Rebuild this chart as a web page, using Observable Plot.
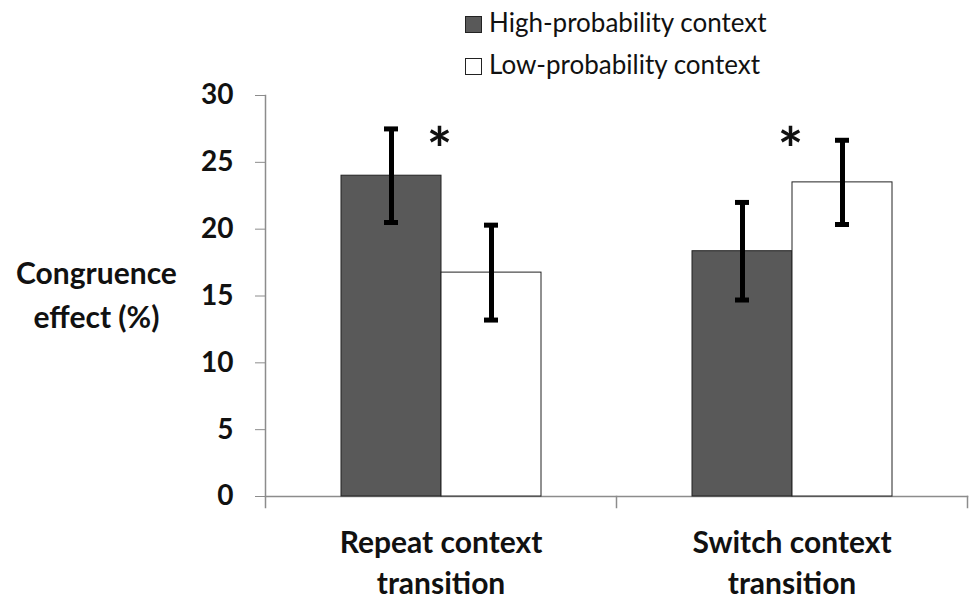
<!DOCTYPE html>
<html>
<head>
<meta charset="utf-8">
<script src="https://cdn.jsdelivr.net/npm/d3@7"></script>
<script src="https://cdn.jsdelivr.net/npm/@observablehq/plot@0.6"></script>
<style>
  html, body { margin: 0; padding: 0; background: #fff; }
  #wrap { position: relative; width: 973px; height: 614px; font-family: Lato, "Open Sans", sans-serif; }
  #legend { position: absolute; left: 465px; top: 1px; font-size: 26px; color: #111; line-height: 42px; }
  .sw { display: inline-block; width: 15px; height: 15px; border: 1px solid #222; margin-right: 7px; vertical-align: -1px; }
  #ylabel { position: absolute; left: 0px; top: 250px; width: 193px; text-align: center; font-size: 30px; font-weight: bold; line-height: 44px; color: #111; }
</style>
</head>
<body>
<div id="wrap">
  <div id="chart"></div>
  <div id="legend"></div>
  <div id="ylabel">Congruence<br>effect (%)</div>
</div>
<script>
const groups = ["Repeat context transition", "Switch context transition"];
const contexts = ["High-probability context", "Low-probability context"];
const highMeans = [24.0, 18.35];
const lowMeans = [16.75, 23.5];
const highErr = [3.5, 3.65];
const lowErr = [3.55, 3.15];
const sigY = [26.8, 26.8];
const yTicks = [0, 5, 10, 15, 20, 25, 30];
const colors = ["#595959", "#ffffff"];

const rows = [];
groups.forEach((g, i) => {
  rows.push({group: g, context: contexts[0], mean: highMeans[i], err: highErr[i]});
  rows.push({group: g, context: contexts[1], mean: lowMeans[i], err: lowErr[i]});
});
const stars = groups.map((g, i) => ({group: g, context: contexts[0], y: sigY[i]}));

const plot = Plot.plot({
  width: 973,
  height: 614,
  marginLeft: 265,
  marginRight: 6,
  marginTop: 95,
  marginBottom: 118,
  style: {fontFamily: "Lato, 'Open Sans', sans-serif", color: "#111", background: "#fff"},
  fx: {domain: groups, padding: 0},
  x: {domain: contexts, paddingInner: 0, paddingOuter: 0.755},
  y: {domain: [0, 30]},
  color: {domain: contexts, range: colors},
  marks: [
    Plot.frame({anchor: "left", facet: "super", stroke: "#8c8c8c", strokeWidth: 1.5, insetBottom: -11}),
    Plot.frame({anchor: "bottom", facet: "super", stroke: "#8c8c8c", strokeWidth: 1.5}),
    Plot.frame({anchor: "right", stroke: "#8c8c8c", strokeWidth: 1.5, insetTop: 401, insetBottom: -11}),
    Plot.barY(rows, {fx: "group", x: "context", y: "mean", fill: "context", stroke: "#222", strokeWidth: 1}),
    Plot.ruleX(rows, {fx: "group", x: "context", y1: d => d.mean - d.err, y2: d => d.mean + d.err, stroke: "#000", strokeWidth: 5}),
    Plot.tickY(rows, {fx: "group", x: "context", y: d => d.mean + d.err, stroke: "#000", strokeWidth: 5, insetLeft: 43, insetRight: 43}),
    Plot.tickY(rows, {fx: "group", x: "context", y: d => d.mean - d.err, stroke: "#000", strokeWidth: 5, insetLeft: 43, insetRight: 43}),
    Plot.text(stars, {fx: "group", x: "context", y: "y", text: () => "*", dx: 48, dy: 14, fontSize: 60, fontWeight: "bold", fill: "#111"}),
    Plot.axisY({ticks: yTicks, tickSize: 10, tickPadding: 22, fontSize: 28, fontWeight: "bold", stroke: "#8c8c8c", fill: "#111", label: null}),
    Plot.axisFx({anchor: "bottom", tickSize: 0, tickPadding: 28, fontSize: 30, fontWeight: "bold", fill: "#111", label: null, lineHeight: 1.35,
      tickFormat: d => d.replace(" transition", "\ntransition")}),
    Plot.axisX({ticks: [], label: null})
  ]
});
document.getElementById("chart").appendChild(plot);

const legend = document.getElementById("legend");
contexts.forEach((c, i) => {
  const row = document.createElement("div");
  const sw = document.createElement("span");
  sw.className = "sw";
  sw.style.background = colors[i];
  row.appendChild(sw);
  row.appendChild(document.createTextNode(c));
  legend.appendChild(row);
});
</script>
</body>
</html>
